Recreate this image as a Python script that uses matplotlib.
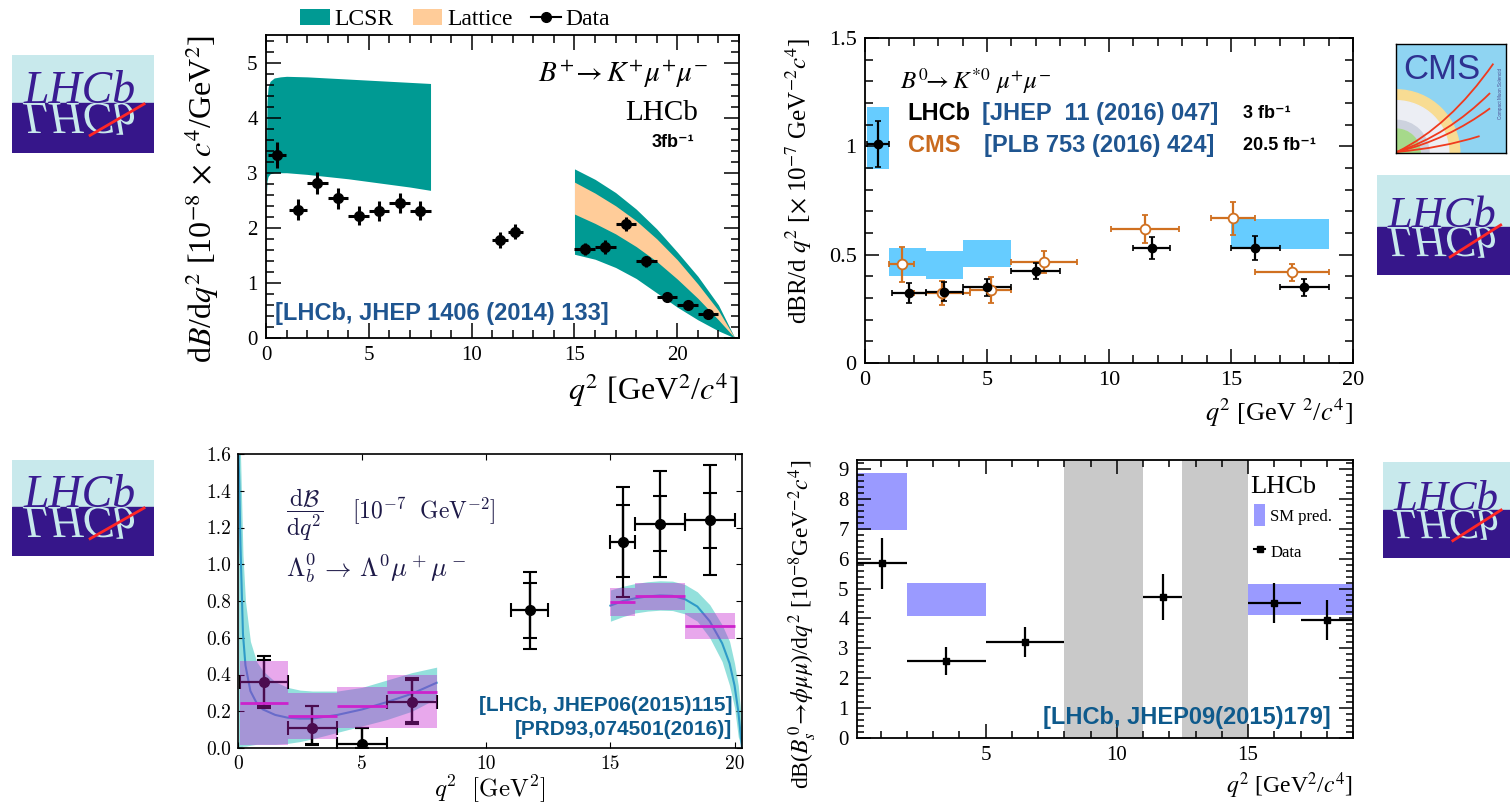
import numpy as np
import matplotlib
matplotlib.use('Agg')
import matplotlib.pyplot as plt
from matplotlib.patches import Patch, Rectangle, Wedge, PathPatch
from matplotlib.lines import Line2D
from matplotlib.textpath import TextPath
from matplotlib.font_manager import FontProperties
from matplotlib.path import Path
from matplotlib.transforms import Affine2D
from matplotlib.ticker import MultipleLocator, FuncFormatter, FormatStrFormatter

plt.rcParams['font.family'] = 'Liberation Serif'
plt.rcParams['mathtext.fontset'] = 'stix'

# ---------- B+ -> K+ mu mu (LHCb, top left)
bk_lo = [0.1, 1.1, 2, 3, 4, 5, 6, 7, 11, 11.75, 15, 16, 17, 18, 19, 20, 21]
bk_hi = [0.98, 2, 3, 4, 5, 6, 7, 8, 11.75, 12.5, 16, 17, 18, 19, 20, 21, 22]
bk_val = [3.32, 2.33, 2.82, 2.54, 2.22, 2.31, 2.45, 2.31, 1.78, 1.93,
          1.62, 1.65, 2.07, 1.39, 0.74, 0.59, 0.43]
bk_err = [0.24, 0.19, 0.2, 0.19, 0.17, 0.18, 0.18, 0.17, 0.14, 0.14,
          0.11, 0.12, 0.12, 0.1, 0.06, 0.05, 0.05]
lcsr_q = [0.02, 0.05, 0.1, 0.2, 0.4, 0.7, 1, 2, 3, 4, 5, 6, 7, 8]
lcsr_up = [3.4, 4.3, 4.55, 4.66, 4.72, 4.74, 4.75, 4.74, 4.72, 4.70, 4.68, 4.66, 4.64, 4.62]
lcsr_dn = [2.6, 2.85, 2.93, 2.98, 3.0, 3.0, 3.0, 2.97, 2.93, 2.89, 2.84, 2.79, 2.74, 2.68]
hiq = [15, 16, 17, 18, 19, 20, 21, 22, 22.8]
lcsr_hi_up = [3.07, 2.88, 2.64, 2.34, 1.98, 1.56, 1.12, 0.6, 0.0]
lcsr_hi_dn = [1.52, 1.43, 1.28, 1.08, 0.82, 0.56, 0.33, 0.13, 0.0]
latt_up = [2.83, 2.63, 2.4, 2.13, 1.8, 1.42, 0.98, 0.5, 0.0]
latt_dn = [2.25, 2.08, 1.89, 1.66, 1.39, 1.07, 0.72, 0.33, 0.0]

# ---------- B0 -> K*0 mu mu (LHCb + CMS, top right)
ks_lo = [0.1, 1.1, 2.5, 4, 6, 11, 15, 17]
ks_hi = [0.98, 2.5, 4, 6, 8, 12.5, 17, 19]
ks_val = [1.01, 0.324, 0.33, 0.35, 0.425, 0.53, 0.53, 0.35]
ks_err = [0.105, 0.045, 0.045, 0.04, 0.035, 0.05, 0.055, 0.04]
cms_lo = [1, 2, 4.3, 6, 10.09, 14.18, 16]
cms_hi = [2, 4.3, 6, 8.68, 12.86, 16, 19]
cms_val = [0.456, 0.325, 0.336, 0.467, 0.617, 0.667, 0.418]
cms_err = [0.08, 0.055, 0.06, 0.05, 0.065, 0.075, 0.04]
ks_sm_lo = [0.1, 1, 2.5, 4, 15]
ks_sm_hi = [1, 2.5, 4, 6, 19]
ks_sm_dn = [0.895, 0.40, 0.39, 0.445, 0.525]
ks_sm_up = [1.18, 0.533, 0.515, 0.57, 0.663]

# ---------- Lambda_b -> Lambda mu mu (bottom left)
lb_lo = [0.1, 2, 4, 6, 11, 15, 16, 18]
lb_hi = [2, 4, 6, 8, 12.5, 16, 18, 20]
lb_val = [0.36, 0.11, 0.02, 0.25, 0.75, 1.12, 1.22, 1.24]
lb_tot_dn = [0.14, 0.095, 0.02, 0.12, 0.21, 0.30, 0.29, 0.30]
lb_tot_up = [0.14, 0.12, 0.09, 0.13, 0.21, 0.30, 0.29, 0.30]
lb_sta_dn = [0.13, 0.09, 0.02, 0.11, 0.15, 0.19, 0.15, 0.15]
lb_sta_up = [0.12, 0.12, 0.09, 0.12, 0.15, 0.20, 0.15, 0.15]
lb_bin_lo = [0.1, 2, 4, 6, 15, 16, 18]
lb_bin_hi = [2, 4, 6, 8, 16, 18, 20]
lb_bin_c = [0.245, 0.175, 0.228, 0.306, 0.796, 0.827, 0.664]
lb_bin_dn = [0.015, 0.05, 0.11, 0.11, 0.72, 0.75, 0.595]
lb_bin_up = [0.475, 0.30, 0.33, 0.40, 0.87, 0.90, 0.735]
lq_lo = [0.02, 0.05, 0.1, 0.2, 0.3, 0.5, 0.75, 1.0, 1.5, 2.0, 2.5, 3, 4, 5, 6, 7, 8]
lc_lo = [1.6, 1.45, 1.1, 0.62, 0.45, 0.31, 0.245, 0.21, 0.18, 0.165, 0.16, 0.16, 0.18, 0.21, 0.25, 0.295, 0.355]
lu_lo = [1.6, 1.6, 1.6, 1.05, 0.8, 0.58, 0.47, 0.42, 0.36, 0.33, 0.315, 0.31, 0.31, 0.33, 0.37, 0.41, 0.44]
ld_lo = [0.0, 0.0, 0.0, 0.01, 0.01, 0.015, 0.02, 0.02, 0.02, 0.025, 0.035, 0.05, 0.085, 0.12, 0.155, 0.2, 0.27]
lq_hi = [15, 15.5, 16, 16.5, 17, 17.5, 18, 18.5, 19, 19.5, 19.8, 20.0, 20.15, 20.3]
lc_hi = [0.775, 0.80, 0.815, 0.825, 0.83, 0.828, 0.81, 0.77, 0.69, 0.57, 0.46, 0.34, 0.2, 0.0]
lu_hi = [0.86, 0.88, 0.895, 0.905, 0.91, 0.908, 0.89, 0.85, 0.78, 0.67, 0.58, 0.46, 0.34, 0.12]
ld_hi = [0.69, 0.715, 0.735, 0.745, 0.75, 0.748, 0.73, 0.69, 0.6, 0.47, 0.34, 0.22, 0.06, 0.0]

# ---------- Bs -> phi mu mu (bottom right)
ph_lo = [0.1, 2, 5, 11, 15, 17]
ph_hi = [2, 5, 8, 12.5, 17, 19]
ph_val = [5.85, 2.57, 3.2, 4.72, 4.52, 3.95]
ph_err = [0.85, 0.46, 0.5, 0.78, 0.68, 0.67]
ph_sm_lo = [0.1, 2, 15]
ph_sm_hi = [2, 5, 19]
ph_sm_dn = [6.95, 4.07, 4.12]
ph_sm_up = [8.85, 5.17, 5.15]
veto_lo = [8, 12.5]
veto_hi = [11, 15]

W, H = 1510, 808
fig = plt.figure(figsize=(W / 100, H / 100), dpi=100)


def px_axes(x0, y0, x1, y1):
    return fig.add_axes([x0 / W, 1 - y1 / H, (x1 - x0) / W, (y1 - y0) / H])


def root_style(ax, xmaj, xmin, ymaj, ymin, fs, lmaj=10, lmin=5):
    ax.xaxis.set_major_locator(MultipleLocator(xmaj))
    ax.xaxis.set_minor_locator(MultipleLocator(xmin))
    ax.yaxis.set_major_locator(MultipleLocator(ymaj))
    ax.yaxis.set_minor_locator(MultipleLocator(ymin))
    fmt = FuncFormatter(lambda v, p: '%g' % round(v, 6))
    ax.xaxis.set_major_formatter(fmt)
    ax.yaxis.set_major_formatter(fmt)
    ax.tick_params(which='both', direction='in', top=True, right=True, width=1.1)
    ax.tick_params(which='major', length=lmaj, labelsize=fs, pad=6)
    ax.tick_params(which='minor', length=lmin)
    for s in ax.spines.values():
        s.set_linewidth(1.3)


def centers(lo, hi):
    lo, hi = np.array(lo), np.array(hi)
    return (lo + hi) / 2, [(hi - lo) / 2, (hi - lo) / 2]


blue_ref = '#1f5590'
teal = '#009a93'
orange = '#ffcc99'
sans = ['Liberation Sans', 'DejaVu Sans']

# ================= top left
ax1 = px_axes(266, 35, 739, 338)
ax1.fill_between(lcsr_q, lcsr_dn, lcsr_up, color=teal, lw=0)
ax1.fill_between(hiq, lcsr_hi_dn, lcsr_hi_up, color=teal, lw=0)
ax1.fill_between(hiq, latt_dn, latt_up, color=orange, lw=0)
xc, xe = centers(bk_lo, bk_hi)
ax1.errorbar(xc, bk_val, xerr=xe, yerr=bk_err, fmt='o', color='k', ms=7,
             elinewidth=2.2, capsize=0)
ax1.set_xlim(0, 23)
ax1.set_ylim(0, 5.5)
root_style(ax1, 5, 1, 1, 0.2, 15, 11, 5.5)
ax1.set_ylabel(r'd$B$/d$q^2$ [10$^{-8}$ $\times$ $c^4$/GeV$^2$]', fontsize=23, loc='top')
ax1.yaxis.set_label_coords(-0.095, 1.0)
ax1.set_xlabel(r'$q^2$ [GeV$^2$/$c^4$]', fontsize=23, loc='right')
ax1.xaxis.set_label_coords(1.0, -0.11)
ax1.text(21.5, 4.78, r'$B^{+}\!\rightarrow K^{+}\mu^{+}\mu^{-}$', fontsize=21, ha='right', va='center')
ax1.text(21.0, 4.08, 'LHCb', fontsize=21, ha='right', va='center')
ax1.text(20.85, 3.54, '3fb⁻¹', fontsize=13, ha='right', va='center', weight='bold', family=sans)
ax1.text(0.45, 0.44, '[LHCb, JHEP 1406 (2014) 133]', fontsize=17, ha='left', va='center',
         weight='bold', color=blue_ref, family='Liberation Sans')
ax1.legend(handles=[Patch(facecolor=teal, label='LCSR'),
                    Patch(facecolor=orange, label='Lattice'),
                    Line2D([], [], color='k', marker='o', ms=7, lw=1.5, label='Data')],
           ncol=3, loc='center', bbox_to_anchor=(0.40, 1.05), frameon=False, fontsize=17,
           handlelength=1.25, handleheight=0.65, handletextpad=0.2, columnspacing=0.8,
           borderpad=0, borderaxespad=0)

# ================= top right
ax2 = px_axes(865, 38, 1353, 363)
ax2.bar(ks_sm_lo, np.array(ks_sm_up) - np.array(ks_sm_dn), bottom=ks_sm_dn,
        width=np.array(ks_sm_hi) - np.array(ks_sm_lo), align='edge', color='#66ccff', lw=0)
xc, xe = centers(cms_lo, cms_hi)
ax2.errorbar(xc, cms_val, xerr=xe, yerr=cms_err, fmt='o', color='#d07020', mfc='white',
             mec='#d07020', mew=1.3, ms=7, elinewidth=1.6, capsize=2, capthick=1.2)
xc, xe = centers(ks_lo, ks_hi)
ax2.errorbar(xc, ks_val, xerr=xe, yerr=ks_err, fmt='o', color='k', ms=6,
             elinewidth=1.6, capsize=2, capthick=1.2)
ax2.set_xlim(0, 20)
ax2.set_ylim(0, 1.5)
root_style(ax2, 5, 1, 0.5, 0.1, 16, 10, 6)
ax2.set_ylabel(r'dBR/d $q^2$ [$\times$ 10$^{-7}$ GeV$^{-2}c^4$]', fontsize=18, loc='top')
ax2.yaxis.set_label_coords(-0.105, 1.0)
ax2.set_xlabel(r'$q^2$ [GeV $^2$/$c^4$]', fontsize=19, loc='right')
ax2.xaxis.set_label_coords(1.0, -0.105)
ax2.text(1.45, 1.30, r'$B^{0}\!\!\rightarrow K^{*0}\ \mu^{+}\mu^{-}$', fontsize=18, va='center')
ax2.text(1.75, 1.153, 'LHCb', fontsize=17, weight='bold', va='center', family=sans)
ax2.text(4.8, 1.153, '[JHEP  11 (2016) 047]', fontsize=17, weight='bold', va='center',
         color=blue_ref, family=sans)
ax2.text(15.5, 1.153, '3 fb⁻¹', fontsize=13, weight='bold', va='center', family=sans)
ax2.text(1.75, 1.005, 'CMS', fontsize=17, weight='bold', va='center', color='#c96a1e', family=sans)
ax2.text(4.87, 1.005, '[PLB 753 (2016) 424]', fontsize=17, weight='bold', va='center',
         color=blue_ref, family=sans)
ax2.text(15.5, 1.005, '20.5 fb⁻¹', fontsize=13, weight='bold', va='center', family=sans)

# ================= bottom left
ax3 = px_axes(238, 454, 742, 748)
ax3.fill_between(lq_lo, ld_lo, lu_lo, color='#93e0dc', lw=0, zorder=1)
ax3.fill_between(lq_hi, ld_hi, lu_hi, color='#93e0dc', lw=0, zorder=1)
ax3.plot(lq_lo, lc_lo, color='#2f9bc8', lw=1.5, zorder=2)
ax3.plot(lq_hi, lc_hi, color='#2f9bc8', lw=1.5, zorder=2)
xc, xe = centers(lb_lo, lb_hi)
ax3.errorbar(xc, lb_val, xerr=xe, yerr=[lb_tot_dn, lb_tot_up], fmt='o', color='k', ms=7,
             elinewidth=1.6, capsize=5, capthick=1.5, zorder=3)
ax3.errorbar(xc, lb_val, yerr=[lb_sta_dn, lb_sta_up], fmt='none', color='k',
             elinewidth=1.6, capsize=5, capthick=1.5, zorder=3)
ax3.bar(lb_bin_lo, np.array(lb_bin_up) - np.array(lb_bin_dn), bottom=lb_bin_dn,
        width=np.array(lb_bin_hi) - np.array(lb_bin_lo), align='edge', color='#c420ce',
        alpha=0.39, lw=0, zorder=4)
ax3.hlines(lb_bin_c, lb_bin_lo, lb_bin_hi, color='#cc22cc', lw=2, zorder=5)
ax3.set_xlim(0, 20.3)
ax3.set_ylim(0, 1.6)
ax3.xaxis.set_major_locator(MultipleLocator(5))
ax3.yaxis.set_major_locator(MultipleLocator(0.2))
ax3.yaxis.set_major_formatter(FormatStrFormatter('%.1f'))
ax3.tick_params(direction='in', top=True, right=True, length=4, labelsize=14,
                labelfontfamily='cmr10', pad=5)
for s in ax3.spines.values():
    s.set_linewidth(1.2)
ax3.set_xlabel(r'$q^2\ \ [\mathrm{GeV}^2]$', fontsize=18, math_fontfamily='cm')
ax3.xaxis.set_label_coords(0.5, -0.088)
navy = '#1e1a48'
ax3.text(1.95, 1.27, r'$\dfrac{\mathrm{d}\mathcal{B}}{\mathrm{d}q^2}$', fontsize=17,
         va='center', color=navy, math_fontfamily='cm')
ax3.text(4.6, 1.29, r'$[10^{-7}\ \ \mathrm{GeV}^{-2}]$', fontsize=17, va='center',
         color=navy, math_fontfamily='cm')
ax3.text(1.95, 0.98, r'$\Lambda_b^0\,\rightarrow\,\Lambda^0\mu^+\mu^-$', fontsize=19,
         va='center', color=navy, math_fontfamily='cm')
ax3.text(19.9, 0.23, '[LHCb, JHEP06(2015)115]', fontsize=15, weight='bold', ha='right',
         va='center', color='#0e5a8c', family='Liberation Sans')
ax3.text(19.9, 0.10, '[PRD93,074501(2016)]', fontsize=15, weight='bold', ha='right',
         va='center', color='#0e5a8c', family='Liberation Sans')

# ================= bottom right
ax4 = px_axes(857, 460, 1353, 738)
for a, b in zip(veto_lo, veto_hi):
    ax4.axvspan(a, b, color='#c9c9c9', lw=0)
ax4.bar(ph_sm_lo, np.array(ph_sm_up) - np.array(ph_sm_dn), bottom=ph_sm_dn,
        width=np.array(ph_sm_hi) - np.array(ph_sm_lo), align='edge', color='#9a9aff', lw=0)
xc, xe = centers(ph_lo, ph_hi)
ax4.errorbar(xc, ph_val, xerr=xe, yerr=ph_err, fmt='s', color='k', ms=4,
             elinewidth=1.6, capsize=0)
ax4.set_xlim(0.1, 19)
ax4.set_ylim(0, 9.3)
root_style(ax4, 5, 1, 1, 0.2, 15, 10, 5)
ax4.set_ylabel(r'dB($B^{\,0}_{s}\!\rightarrow\!\phi\mu\mu$)/d$q^2$ [10$^{-8}$GeV$^{-2}c^4$]',
               fontsize=17, loc='top')
ax4.yaxis.set_label_coords(-0.077, 1.0)
ax4.set_xlabel(r'$q^2$ [GeV$^2$/$c^4$]', fontsize=17, loc='right')
ax4.xaxis.set_label_coords(1.0, -0.115)
ax4.text(0.792, 0.903, 'LHCb', fontsize=19, va='center', transform=ax4.transAxes)
ax4.legend(handles=[Patch(facecolor='#9a9aff', label='SM pred.'),
                    Line2D([], [], color='k', marker='s', ms=4, lw=1.5, label='Data')],
           loc='upper left', bbox_to_anchor=(0.80, 0.84), frameon=False, fontsize=12,
           handlelength=0.7, handleheight=1.6, labelspacing=0.9, handletextpad=0.3,
           borderpad=0, borderaxespad=0)
ax4.text(0.956, 0.075, '[LHCb, JHEP09(2015)179]', fontsize=17, weight='bold', ha='right',
         va='center', color='#0e5a8c', family='Liberation Sans', transform=ax4.transAxes)


# ================= logos
def lhcb_logo(x0, y0, x1, y1, ysplit, fs):
    ax = px_axes(x0, y0, x1, y1)
    f = (y1 - ysplit) / (y1 - y0)
    ax.add_patch(Rectangle((0, f), 1, 1 - f, color='#c8e9ec', transform=ax.transAxes))
    ax.add_patch(Rectangle((0, 0), 1, f, color='#36168a', transform=ax.transAxes))
    tx = (x0 + 0.08 * (x1 - x0)) / 100
    ty = (H - ysplit) / 100
    ax.text(0.08, f, 'LHCb', transform=ax.transAxes, fontsize=fs, style='italic',
            color='#3a1c92', ha='left', va='baseline')
    tp = TextPath((0, 0), 'LHCb', size=fs,
                  prop=FontProperties(family='Liberation Serif', style='italic'))
    tr = Affine2D().scale(1 / 72, -1 / 72).translate(tx, ty) + fig.dpi_scale_trans
    ax.add_patch(PathPatch(tp, transform=tr, color='#c8e9ec', lw=0))
    ax.plot([0.55, 0.93], [0.18, 0.5], color='#ff2626', lw=2, transform=ax.transAxes, zorder=5)
    ax.set_xlim(0, 1)
    ax.set_ylim(0, 1)
    ax.axis('off')


lhcb_logo(12, 55, 154, 153, 103, 33)
lhcb_logo(12, 460, 154, 556, 507, 33)
lhcb_logo(1377, 175, 1510, 275, 227, 32)
lhcb_logo(1383, 462, 1510, 558, 510, 31)

axc = px_axes(1396, 44, 1506, 153)
axc.set_facecolor('#8fd4f2')
axc.add_patch(Wedge((0, 0), 0.58, 0, 90, width=0.1, color='#f8dc93'))
axc.add_patch(Wedge((0, 0), 0.48, 0, 90, color='#eceef4'))
axc.add_patch(Wedge((0, 0), 0.30, 0, 90, width=0.07, color='#cdd2de'))
axc.add_patch(Wedge((0, 0), 0.22, 0, 90, color='#a6d98a'))
track_ends = [(0.885, 0.82), (0.855, 0.55), (0.855, 0.41), (0.76, 0.155)]
for ex, ey in track_ends:
    p = Path([(0.01, 0.01), (0.55 * ex, 0.3 * ey), (ex, ey)], [Path.MOVETO, Path.CURVE3, Path.CURVE3])
    axc.add_patch(PathPatch(p, fill=False, ec='#f03a1e', lw=1.3))
axc.text(0.07, 0.77, 'CMS', fontsize=25, color='#2e3190', family='Liberation Sans',
         va='center', transform=axc.transAxes)
axc.text(0.95, 0.55, 'Compact Muon Solenoid', fontsize=3.3, rotation=90, color='#4a4a90',
         ha='center', va='center', family='Liberation Sans', transform=axc.transAxes)
axc.set_xlim(0, 1)
axc.set_ylim(0, 1)
axc.set_xticks([])
axc.set_yticks([])
for s in axc.spines.values():
    s.set_linewidth(1.0)

fig.savefig('out.png', dpi=100)
